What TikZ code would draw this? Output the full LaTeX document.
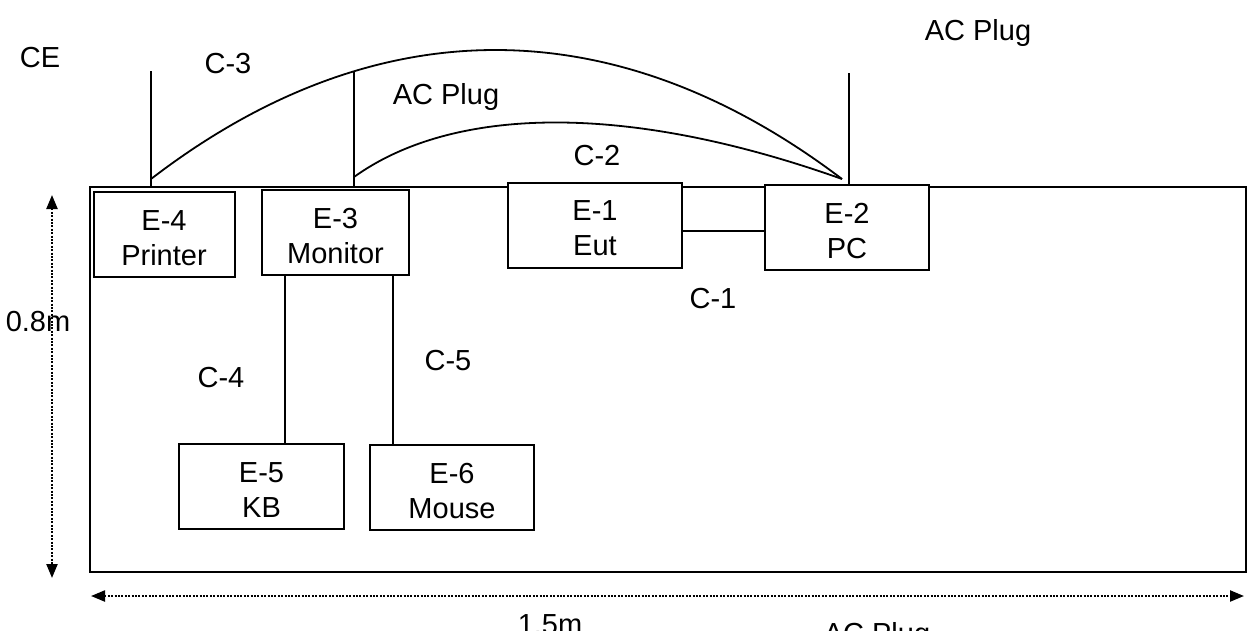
\documentclass[tikz,border=0pt]{standalone}
\usepackage{fontspec}
\setmainfont{Liberation Sans}
\usetikzlibrary{arrows.meta}
\newcommand{\toppad}{\rule{0pt}{27pt}}
\begin{document}
\begin{tikzpicture}[x=1pt,y=-1pt,
  every node/.style={font=\fontsize{29pt}{35pt}\selectfont, inner sep=0pt},
  equip/.style={draw, fill=white, line width=2pt, align=center, minimum height=85pt},
  cable/.style={line width=1.8pt},
  dim/.style={line width=2.2pt, dash pattern=on 2pt off 1.4pt,
    {Triangle[length=14pt,width=11pt]}-{Triangle[length=14pt,width=11pt]}},
  lbl/.style={anchor=base}]
\useasboundingbox (0,0) rectangle (1247,630);
\clip (0,0) rectangle (1247,630);

% room / table outline
\node[draw, line width=1.7pt, anchor=north west, minimum width=1156pt, minimum height=385pt] (room) at (89,186) {};

% equipment
\node[equip, minimum width=141pt] (e4) at (164,234.5) {\toppad E-4\\Printer};
\node[equip, minimum width=147pt] (e3) at (335.5,232.5) {\toppad E-3\\Monitor};
\node[equip, minimum width=174pt] (e1) at (595,225) {\toppad E-1\\Eut};
\node[equip, minimum width=164pt] (e2) at (847,227.5) {\toppad E-2\\PC};
\node[equip, minimum width=165pt] (e5) at (261.5,486.5) {\toppad E-5\\KB};
\node[equip, minimum width=164pt] (e6) at (452,487.5) {\toppad E-6\\Mouse};

% AC plug drops
\coordinate (p4) at (151,71);
\coordinate (p3) at (354,72);
\coordinate (p2) at (849,73);
\coordinate (p4b) at (151,186);
\coordinate (p3b) at (354,187);
\draw[cable] (p4) -- (p4b);
\draw[cable] (p3) -- (p3b);
\draw[cable] (p2) -- (p2 |- e2.north);

% cables C-3 and C-2
\coordinate (c3s) at (151,179);
\coordinate (c2s) at (354,177);
\coordinate (pcend) at (842,179);
\draw[cable] (c3s) .. controls (375,7) and (615,7) .. (pcend);
\draw[cable] (c2s) .. controls (450,108) and (620,100) .. (pcend);

% C-1
\draw[cable] (e1.east |- 0,231) -- (e2.west |- 0,231);

% C-4, C-5
\draw[cable] (e3.south -| 285,0) -- (e5.north -| 285,0);
\draw[cable] (e3.south -| 393,0) -- (e6.north -| 393,0);

% dimension arrows
\coordinate (vt) at (52,195);
\coordinate (vb) at (52,578);
\coordinate (hl) at (91,596);
\coordinate (hr) at (1244,596);
\draw[dim] (vt) -- (vb);
\draw[dim] (hl) -- (hr);

% labels
\node[lbl] (ce) at (40,67) {CE};
\node[lbl] (lc3) at (228,73) {C-3};
\node[lbl] (ac1) at (446,104) {AC Plug};
\node[lbl] (lc2) at (597,165) {C-2};
\node[lbl] (ac2) at (978,40) {AC Plug};
\node[lbl] (lc1) at (713,308) {C-1};
\node[lbl] (lc4) at (221,387) {C-4};
\node[lbl] (lc5) at (448,370) {C-5};
\node[lbl] (d08) at (38,331) {0.8m};
\node[lbl] (d15) at (550,634) {1.5m};
\node[lbl] (ac3) at (877,643) {AC Plug};
\end{tikzpicture}
\end{document}
